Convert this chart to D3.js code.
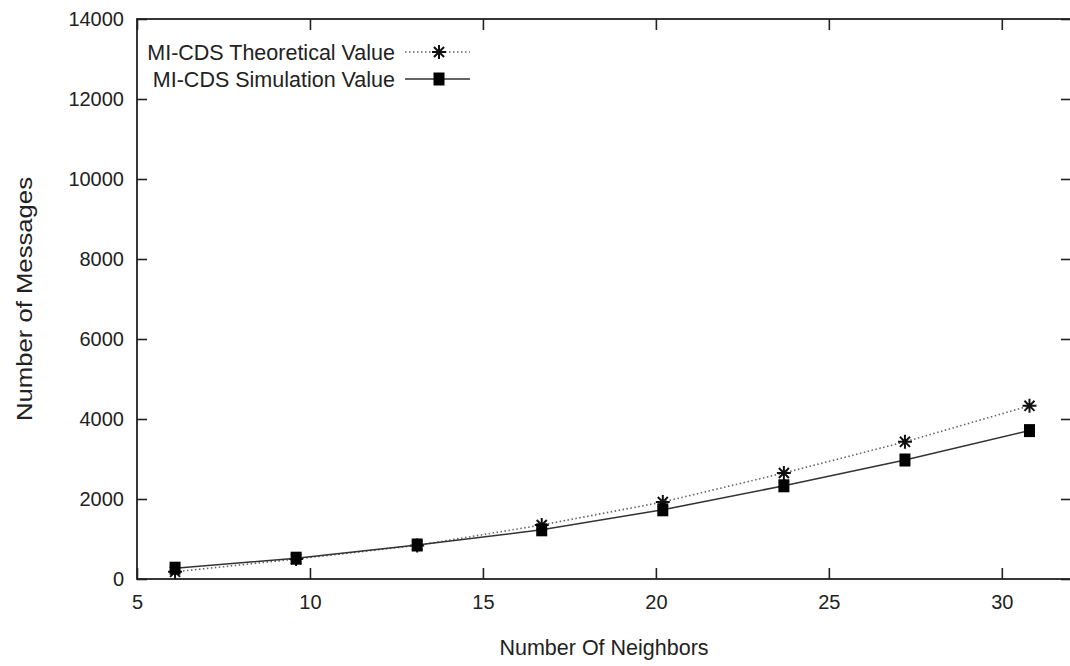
<!DOCTYPE html>
<html>
<head>
<meta charset="utf-8">
<script src="https://cdn.jsdelivr.net/npm/d3@7"></script>
<style>
  body { margin: 0; background: #fff; }
  svg { display: block; font-family: "Liberation Sans", Arial, sans-serif; }
  .axis text { font-size: 20px; fill: #222; }
  .axis line { stroke: #222; stroke-width: 1.6; }
</style>
</head>
<body>
<div id="chart"></div>
<script>
// data
const neighbors   = [6.1, 9.6, 13.1, 16.7, 20.2, 23.7, 27.2, 30.8];
const theoretical = [180, 500, 840, 1350, 1925, 2650, 3430, 4330];
const simulation  = [270, 520, 850, 1230, 1730, 2330, 2975, 3710];

const xTicks = [5, 10, 15, 20, 25, 30];
const yTicks = [0, 2000, 4000, 6000, 8000, 10000, 12000, 14000];
const seriesNames = ["MI-CDS Theoretical Value", "MI-CDS Simulation Value"];

const W = 1070, H = 666;
const margin = { top: 19, right: -1, bottom: 87, left: 137 };
const width = W - margin.left - margin.right;
const height = H - margin.top - margin.bottom;

const svg = d3.select("#chart").append("svg")
  .attr("width", W)
  .attr("height", H);

const g = svg.append("g")
  .attr("transform", "translate(" + margin.left + "," + margin.top + ")");

const x = d3.scaleLinear().domain([5, 32]).range([0, width]);
const y = d3.scaleLinear().domain([0, 14000]).range([height, 0]);

// axes, ticks pointing inward like gnuplot
g.append("g").attr("class", "axis")
  .attr("transform", "translate(0," + height + ")")
  .call(d3.axisBottom(x).tickValues(xTicks).tickSize(-11).tickPadding(16))
  .call(a => a.select(".domain").remove());

g.append("g").attr("class", "axis")
  .call(d3.axisTop(x).tickValues(xTicks).tickSize(-11).tickFormat(""))
  .call(a => a.select(".domain").remove());

g.append("g").attr("class", "axis")
  .call(d3.axisLeft(y).tickValues(yTicks).tickSize(-10).tickPadding(13).tickFormat(d3.format("d")))
  .call(a => a.select(".domain").remove());

g.append("g").attr("class", "axis")
  .attr("transform", "translate(" + width + ",0)")
  .call(d3.axisRight(y).tickValues(yTicks).tickSize(-10).tickFormat(""))
  .call(a => a.select(".domain").remove());

// frame
g.append("rect")
  .attr("width", width).attr("height", height)
  .attr("fill", "none").attr("stroke", "#222").attr("stroke-width", 1.8);

// axis titles
svg.append("text")
  .attr("x", 604).attr("y", 655)
  .attr("text-anchor", "middle")
  .attr("font-size", 21.5).attr("fill", "#222")
  .text("Number Of Neighbors");

svg.append("text")
  .attr("transform", "translate(32," + (margin.top + height / 2) + ") rotate(-90)")
  .attr("text-anchor", "middle")
  .attr("font-size", 21.5).attr("fill", "#222")
  .attr("textLength", 244).attr("lengthAdjust", "spacingAndGlyphs")
  .text("Number of Messages");

const line = d3.line().x(d => x(d[0])).y(d => y(d[1]));
const theoData = neighbors.map((n, i) => [n, theoretical[i]]);
const simData = neighbors.map((n, i) => [n, simulation[i]]);

function star(sel, r) {
  const d = r * 0.72;
  sel.append("path")
    .attr("d", `M0,${-r}V${r}M${-d},${-d}L${d},${d}M${-d},${d}L${d},${-d}M${-r},0H${r}`)
    .attr("stroke", "#111").attr("stroke-width", 2).attr("fill", "none");
}
function square(sel) {
  sel.append("rect")
    .attr("x", -5.5).attr("y", -6.5).attr("width", 11).attr("height", 13)
    .attr("fill", "#000");
}

// theoretical: dotted line with asterisks
g.append("path").datum(theoData)
  .attr("d", line)
  .attr("fill", "none").attr("stroke", "#666")
  .attr("stroke-width", 1.6).attr("stroke-dasharray", "1.5,2.5");

g.selectAll(".star").data(theoData).join("g")
  .attr("class", "star")
  .attr("transform", d => "translate(" + x(d[0]) + "," + y(d[1]) + ")")
  .each(function () { star(d3.select(this), 7); });

// simulation: solid line with squares
g.append("path").datum(simData)
  .attr("d", line)
  .attr("fill", "none").attr("stroke", "#333").attr("stroke-width", 1.5);

g.selectAll(".sq").data(simData).join("g")
  .attr("class", "sq")
  .attr("transform", d => "translate(" + x(d[0]) + "," + y(d[1]) + ")")
  .each(function () { square(d3.select(this)); });

// legend
const legend = svg.append("g");
seriesNames.forEach((name, i) => {
  const ly = 52 + i * 27;
  legend.append("text")
    .attr("x", 395).attr("y", ly + 8)
    .attr("text-anchor", "end")
    .attr("font-size", 21.5).attr("fill", "#222")
    .text(name);
  const ln = legend.append("line")
    .attr("x1", 405).attr("x2", 470).attr("y1", ly).attr("y2", ly);
  const mk = legend.append("g").attr("transform", "translate(439," + ly + ")");
  if (i === 0) {
    ln.attr("stroke", "#666").attr("stroke-width", 1.6).attr("stroke-dasharray", "1.5,2.5");
    star(mk, 7);
  } else {
    ln.attr("stroke", "#333").attr("stroke-width", 1.5);
    square(mk);
  }
});
</script>
</body>
</html>
